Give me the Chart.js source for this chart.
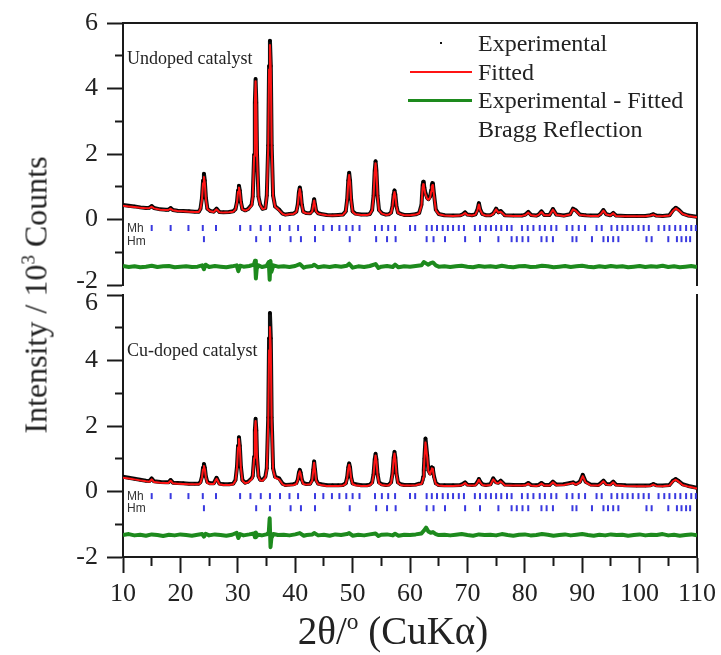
<!DOCTYPE html>
<html>
<head>
<meta charset="utf-8">
<script src="https://cdn.jsdelivr.net/npm/chart.js@4.4.1/dist/chart.umd.min.js"></script>
<style>
html,body{margin:0;padding:0;background:#fff;}
#wrap{position:relative;width:721px;height:655px;overflow:hidden;font-family:"Liberation Serif","Times New Roman",serif;color:#222;}
canvas{position:absolute;left:0;}
#cTop{top:0;width:721px;height:291px;}
#cBot{top:289px;width:721px;height:366px;}
.t{position:absolute;white-space:nowrap;}
.sup{font-size:0.6em;position:relative;top:-0.65em;}
#ytitle{left:38px;top:295px;font-size:32px;line-height:36px;transform:translate(-50%,-50%) rotate(-90deg);}
#xtitle{left:393px;top:633px;font-size:39px;line-height:42px;transform:translate(-50%,-50%);}
.leg{left:478px;font-size:24px;line-height:28px;}
.cat{left:127px;font-size:18px;line-height:20px;}
.ph{left:127px;font-family:"Liberation Sans",Arial,sans-serif;font-size:12px;line-height:12px;color:#333;}
.ln{position:absolute;}
</style>
</head>
<body>
<div id="wrap">
<canvas id="cTop" width="721" height="291"></canvas>
<canvas id="cBot" width="721" height="366"></canvas>

<div class="t" id="ytitle">Intensity / 10<span class="sup">3</span> Counts</div>
<div class="t" id="xtitle">2θ/<span class="sup">o</span> (CuKα)</div>

<div class="ln" style="left:440px;top:42px;width:2px;height:2px;background:#111;"></div>
<div class="t leg" style="top:29px;">Experimental</div>
<div class="ln" style="left:410px;top:71px;width:62px;height:2px;background:#ff1414;"></div>
<div class="t leg" style="top:58px;">Fitted</div>
<div class="ln" style="left:408px;top:99px;width:64px;height:3px;background:#1d8a1d;"></div>
<div class="t leg" style="top:86px;">Experimental - Fitted</div>
<div class="t leg" style="top:115px;">Bragg Reflection</div>

<div class="t cat" style="top:48px;">Undoped catalyst</div>
<div class="t cat" style="top:340px;">Cu-doped catalyst</div>

<div class="t ph" style="top:222px;">Mh</div>
<div class="t ph" style="top:235px;">Hm</div>
<div class="t ph" style="top:490px;">Mh</div>
<div class="t ph" style="top:502px;">Hm</div>
</div>

<script>
// ---------------- DATA (2θ in degrees, intensity in 10^3 counts) ----------------
const twoTheta = [
  10, 11, 12, 13, 14,
  14.6, 15.0, 15.4,
  16.5, 17.5,
  17.9, 18.3, 18.7,
  19.5, 20.5, 21.5, 22.5, 23.2,
  23.5, 23.75, 23.95, 24.1, 24.25, 24.45, 24.7, 25.2,
  25.8, 26.3, 26.8,
  27.5, 28.5, 29.2,
  29.6, 29.85, 30.05, 30.2, 30.35, 30.55, 30.8, 31.3,
  31.8, 32.4, 32.6, 32.85, 32.97, 33.1, 33.23, 33.35, 33.6, 33.9,
  34.3, 34.8, 35.05, 35.3, 35.45, 35.6, 35.75, 35.9, 36.15, 36.5,
  37.2, 37.8, 38.3, 39.0, 39.7,
  40.2, 40.45, 40.65, 40.8, 40.95, 41.15, 41.4, 41.9,
  42.6, 42.95, 43.15, 43.3, 43.45, 43.65, 44.0, 44.5,
  45.5, 46.5, 47.5, 48.3,
  48.8, 49.05, 49.25, 49.4, 49.55, 49.75, 50.0, 50.5,
  51.5, 52.5, 53.0,
  53.4, 53.65, 53.85, 54.0, 54.15, 54.35, 54.6, 55.1,
  55.8, 56.3,
  56.7, 56.95, 57.15, 57.3, 57.45, 57.65, 57.9, 58.4,
  59.0, 60.0, 61.0, 61.6,
  62.0, 62.2, 62.3, 62.4, 62.5, 62.7, 63.0, 63.2, 63.5, 63.7, 63.8, 63.9, 64.0, 64.2, 64.5, 65.0,
  66.0, 67.5, 68.8, 69.2, 69.6, 70.0, 70.8,
  71.4, 71.75, 72.0, 72.25, 72.6, 73.2,
  74.0, 74.5, 75.0, 75.4, 75.8, 76.5,
  78.0, 79.5, 80.1, 80.6, 81.1, 82.0, 82.4, 82.9, 83.4, 84.3, 84.9, 85.5,
  86.8, 87.9, 88.4, 88.9, 89.6, 90.1, 90.6, 91.5,
  92.8, 93.2, 93.7, 94.2, 94.9, 95.4, 95.9,
  97.5, 99.5, 101.0, 101.9, 102.4, 102.9, 104.0,
  105.2, 105.8, 106.3, 106.8, 107.5, 108.5, 110
];

const undopedExp = [
  0.44, 0.42, 0.40, 0.37, 0.35,
  0.36, 0.41, 0.35,
  0.31, 0.30,
  0.30, 0.35, 0.29,
  0.27, 0.26, 0.25, 0.24, 0.24,
  0.33, 0.65, 1.19, 1.40, 1.19, 0.65, 0.33, 0.26,
  0.24, 0.33, 0.23,
  0.22, 0.23, 0.25,
  0.32, 0.53, 0.89, 1.03, 0.89, 0.53, 0.32, 0.28,
  0.32, 0.45, 0.70, 1.98, 3.57, 4.29, 3.57, 1.98, 0.70, 0.46,
  0.33, 0.35, 0.73, 2.27, 4.69, 5.46, 4.69, 2.27, 0.73, 0.40,
  0.30, 0.18, 0.15, 0.17, 0.18,
  0.24, 0.46, 0.84, 0.98, 0.84, 0.46, 0.24, 0.20,
  0.19, 0.26, 0.46, 0.62, 0.46, 0.26, 0.19, 0.17,
  0.14, 0.13, 0.14, 0.15,
  0.25, 0.60, 1.20, 1.43, 1.20, 0.60, 0.25, 0.18,
  0.15, 0.15, 0.17,
  0.29, 0.73, 1.49, 1.78, 1.49, 0.73, 0.29, 0.19,
  0.15, 0.16,
  0.21, 0.41, 0.76, 0.89, 0.76, 0.41, 0.21, 0.17,
  0.14, 0.14, 0.16, 0.20,
  0.45, 1.05, 1.15, 1.12, 0.98, 0.80, 0.66, 0.62, 0.70, 0.90, 1.05, 1.11, 1.08, 0.75, 0.30, 0.17,
  0.13, 0.12, 0.13, 0.16, 0.22, 0.15, 0.13,
  0.16, 0.30, 0.50, 0.30, 0.17, 0.13,
  0.13, 0.18, 0.33, 0.22, 0.26, 0.13,
  0.12, 0.12, 0.15, 0.23, 0.14, 0.12, 0.15, 0.25, 0.14, 0.14, 0.32, 0.15,
  0.12, 0.16, 0.33, 0.28, 0.15, 0.14, 0.13, 0.12,
  0.12, 0.17, 0.29, 0.16, 0.13, 0.20, 0.12,
  0.11, 0.11, 0.11, 0.13, 0.16, 0.12, 0.11,
  0.13, 0.28, 0.36, 0.30, 0.18, 0.12, 0.08
];

const undopedFit = [
  0.42, 0.40, 0.38, 0.36, 0.34,
  0.35, 0.39, 0.34,
  0.30, 0.29,
  0.29, 0.33, 0.28,
  0.26, 0.25, 0.24, 0.23, 0.23,
  0.32, 0.60, 1.11, 1.30, 1.11, 0.60, 0.32, 0.25,
  0.23, 0.31, 0.22,
  0.21, 0.22, 0.24,
  0.31, 0.51, 0.85, 0.98, 0.85, 0.51, 0.31, 0.27,
  0.31, 0.42, 0.68, 1.94, 3.51, 4.22, 3.51, 1.94, 0.68, 0.44,
  0.32, 0.34, 0.71, 2.22, 4.58, 5.33, 4.58, 2.22, 0.71, 0.39,
  0.28, 0.17, 0.14, 0.16, 0.17,
  0.23, 0.44, 0.79, 0.93, 0.79, 0.44, 0.23, 0.19,
  0.18, 0.24, 0.43, 0.58, 0.43, 0.24, 0.18, 0.16,
  0.13, 0.12, 0.13, 0.14,
  0.24, 0.57, 1.14, 1.36, 1.14, 0.57, 0.24, 0.16,
  0.14, 0.14, 0.16,
  0.28, 0.70, 1.44, 1.72, 1.44, 0.70, 0.28, 0.18,
  0.14, 0.15,
  0.20, 0.39, 0.71, 0.84, 0.71, 0.39, 0.20, 0.16,
  0.13, 0.13, 0.15, 0.19,
  0.42, 0.98, 1.08, 1.05, 0.93, 0.76, 0.63, 0.60, 0.67, 0.86, 1.00, 1.05, 1.02, 0.71, 0.28, 0.16,
  0.12, 0.11, 0.12, 0.15, 0.20, 0.14, 0.12,
  0.15, 0.28, 0.46, 0.28, 0.16, 0.12,
  0.12, 0.17, 0.31, 0.21, 0.24, 0.12,
  0.11, 0.11, 0.14, 0.21, 0.13, 0.11, 0.14, 0.23, 0.13, 0.13, 0.30, 0.14,
  0.11, 0.15, 0.31, 0.26, 0.14, 0.13, 0.12, 0.11,
  0.11, 0.16, 0.27, 0.15, 0.12, 0.19, 0.11,
  0.10, 0.10, 0.10, 0.12, 0.15, 0.11, 0.10,
  0.12, 0.26, 0.34, 0.28, 0.17, 0.11, 0.07
];

const cuDopedExp = [
  0.45, 0.42, 0.39, 0.36, 0.33,
  0.32, 0.40, 0.31,
  0.29, 0.28,
  0.28, 0.35, 0.27,
  0.26, 0.25, 0.24, 0.24, 0.24,
  0.29, 0.45, 0.73, 0.84, 0.73, 0.45, 0.29, 0.25,
  0.25, 0.42, 0.24,
  0.22, 0.22, 0.24,
  0.35, 0.74, 1.40, 1.66, 1.40, 0.74, 0.35, 0.27,
  0.30, 0.40, 0.47, 1.06, 1.87, 2.22, 1.87, 1.06, 0.47, 0.36,
  0.35, 0.45, 0.71, 2.26, 4.68, 5.45, 4.68, 2.26, 0.71, 0.45,
  0.40, 0.24, 0.20, 0.21, 0.22,
  0.26, 0.37, 0.58, 0.66, 0.58, 0.37, 0.26, 0.23,
  0.24, 0.35, 0.67, 0.92, 0.67, 0.35, 0.24, 0.22,
  0.19, 0.19, 0.19, 0.20,
  0.25, 0.43, 0.74, 0.86, 0.74, 0.43, 0.25, 0.22,
  0.19, 0.19, 0.21,
  0.28, 0.53, 0.98, 1.15, 0.98, 0.53, 0.28, 0.22,
  0.20, 0.21,
  0.28, 0.55, 1.03, 1.21, 1.03, 0.55, 0.28, 0.22,
  0.20, 0.20, 0.21, 0.24,
  0.25, 0.35, 0.45, 0.65, 1.00, 1.62, 1.10, 0.65, 0.55, 0.68, 0.74, 0.72, 0.66, 0.45, 0.25, 0.20,
  0.19, 0.19, 0.20, 0.23, 0.28, 0.21, 0.20,
  0.21, 0.29, 0.38, 0.30, 0.22, 0.20,
  0.22, 0.40, 0.28, 0.27, 0.33, 0.21,
  0.20, 0.20, 0.21, 0.26, 0.20, 0.19, 0.20, 0.26, 0.20, 0.20, 0.30, 0.21,
  0.22, 0.26, 0.28, 0.23, 0.30, 0.51, 0.30, 0.21,
  0.20, 0.25, 0.33, 0.23, 0.22, 0.30, 0.21,
  0.19, 0.18, 0.18, 0.19, 0.23, 0.19, 0.18,
  0.20, 0.33, 0.38, 0.32, 0.22, 0.17, 0.11
];

const cuDopedFit = [
  0.42, 0.40, 0.37, 0.34, 0.31,
  0.30, 0.37, 0.29,
  0.27, 0.26,
  0.26, 0.33, 0.25,
  0.24, 0.23, 0.22, 0.22, 0.22,
  0.26, 0.42, 0.68, 0.78, 0.68, 0.42, 0.26, 0.23,
  0.23, 0.39, 0.22,
  0.20, 0.20, 0.22,
  0.33, 0.70, 1.35, 1.60, 1.35, 0.70, 0.33, 0.25,
  0.28, 0.37, 0.45, 1.02, 1.81, 2.15, 1.81, 1.02, 0.45, 0.34,
  0.33, 0.42, 0.66, 2.08, 4.31, 5.02, 4.31, 2.08, 0.66, 0.42,
  0.37, 0.22, 0.18, 0.19, 0.20,
  0.23, 0.35, 0.54, 0.62, 0.54, 0.35, 0.23, 0.21,
  0.22, 0.33, 0.64, 0.88, 0.64, 0.33, 0.22, 0.20,
  0.17, 0.17, 0.17, 0.18,
  0.23, 0.40, 0.70, 0.82, 0.70, 0.40, 0.23, 0.19,
  0.17, 0.17, 0.19,
  0.25, 0.50, 0.93, 1.10, 0.93, 0.50, 0.25, 0.20,
  0.18, 0.19,
  0.26, 0.52, 0.98, 1.16, 0.98, 0.52, 0.26, 0.20,
  0.18, 0.18, 0.19, 0.22,
  0.23, 0.32, 0.42, 0.61, 0.94, 1.50, 1.04, 0.62, 0.52, 0.65, 0.71, 0.69, 0.63, 0.42, 0.23, 0.18,
  0.17, 0.17, 0.18, 0.21, 0.26, 0.19, 0.18,
  0.19, 0.27, 0.36, 0.28, 0.20, 0.18,
  0.20, 0.37, 0.26, 0.25, 0.31, 0.19,
  0.18, 0.18, 0.19, 0.24, 0.18, 0.17, 0.18, 0.24, 0.18, 0.18, 0.28, 0.19,
  0.20, 0.24, 0.26, 0.21, 0.28, 0.47, 0.28, 0.19,
  0.18, 0.23, 0.31, 0.21, 0.20, 0.28, 0.19,
  0.17, 0.16, 0.16, 0.17, 0.21, 0.17, 0.16,
  0.18, 0.31, 0.36, 0.30, 0.20, 0.15, 0.09
];

// Difference curves (plotted offset below the patterns)
const diffTheta = [
  10, 11, 12, 13, 14, 15, 16, 17, 18, 19, 20, 21, 22, 23,
  23.8, 24.1, 24.4, 25, 26, 27, 28, 29, 29.8, 30.1, 30.4, 31, 32,
  32.8, 33.0, 33.15, 33.3, 33.6, 34.2, 35.0, 35.4, 35.55, 35.7, 35.85, 36.2, 37,
  38, 39, 40, 40.8, 41.5, 42, 43, 43.3, 44, 45, 46, 47, 48, 49, 49.4, 50, 51, 52, 53, 54, 54.5, 55, 56, 57, 57.4, 58, 59, 60, 61,
  62, 62.4, 62.8, 63.2, 63.6, 64, 64.5, 65, 66,
  67, 68, 69, 70, 71, 72, 73, 74, 75, 76, 77,
  78, 79, 80, 81, 82, 83, 84, 85, 86, 87, 88,
  89, 90, 91, 92, 93, 94, 95, 96, 97, 98, 99,
  100, 101, 102, 103, 104, 105, 106, 107, 108, 109, 110
];

const undopedDiff = [
  -1.42, -1.45, -1.43, -1.46, -1.44, -1.41, -1.45, -1.43, -1.42, -1.46, -1.44, -1.43, -1.45, -1.44,
  -1.40, -1.52, -1.38, -1.45, -1.42, -1.44, -1.46, -1.43, -1.40, -1.58, -1.41, -1.44, -1.42,
  -1.38, -1.26, -1.80, -1.50, -1.40, -1.45, -1.42, -1.30, -1.84, -1.27, -1.60, -1.40, -1.44,
  -1.43, -1.45, -1.42, -1.36, -1.47, -1.44, -1.42, -1.38, -1.46, -1.43, -1.45, -1.42, -1.44, -1.41, -1.35, -1.47, -1.43, -1.45, -1.42, -1.36, -1.48, -1.44, -1.42, -1.45, -1.38, -1.46, -1.43, -1.44, -1.42,
  -1.40, -1.30, -1.34, -1.38, -1.33, -1.31, -1.40, -1.44, -1.43,
  -1.45, -1.43, -1.41, -1.44, -1.46, -1.42, -1.44, -1.43, -1.45, -1.41, -1.44,
  -1.46, -1.43, -1.42, -1.45, -1.44, -1.41, -1.43, -1.46, -1.44, -1.42, -1.45,
  -1.43, -1.41, -1.44, -1.46, -1.43, -1.45, -1.42, -1.44, -1.43, -1.46, -1.44,
  -1.42, -1.45, -1.43, -1.44, -1.41, -1.45, -1.43, -1.46, -1.44, -1.42, -1.45
];

const cuDopedDiff = [
  -1.33, -1.30, -1.34, -1.32, -1.35, -1.31, -1.33, -1.36, -1.32, -1.34, -1.31, -1.33, -1.35, -1.32,
  -1.30, -1.38, -1.29, -1.34, -1.31, -1.33, -1.35, -1.32, -1.26, -1.42, -1.30, -1.34, -1.31,
  -1.28, -1.40, -1.25, -1.36, -1.32, -1.34, -1.31, -1.25, -0.82, -1.70, -1.42, -1.30, -1.33,
  -1.32, -1.34, -1.31, -1.27, -1.35, -1.33, -1.31, -1.27, -1.34, -1.32, -1.35, -1.31, -1.33, -1.30, -1.27, -1.35, -1.32, -1.34, -1.31, -1.28, -1.36, -1.32, -1.31, -1.34, -1.29, -1.35, -1.32, -1.33, -1.31,
  -1.28, -1.20, -1.10, -1.22, -1.26, -1.24, -1.30, -1.33, -1.32,
  -1.34, -1.32, -1.30, -1.33, -1.35, -1.31, -1.33, -1.32, -1.34, -1.30, -1.33,
  -1.35, -1.32, -1.31, -1.34, -1.33, -1.30, -1.32, -1.35, -1.33, -1.31, -1.34,
  -1.32, -1.30, -1.33, -1.35, -1.32, -1.34, -1.31, -1.33, -1.32, -1.35, -1.33,
  -1.31, -1.34, -1.32, -1.33, -1.30, -1.34, -1.32, -1.35, -1.33, -1.31, -1.34
];

// Bragg reflection positions (2θ) for the two phases
const mhReflections = [
  15.0, 18.3, 21.4, 23.9, 26.2, 30.4, 32.2, 34.0, 35.6, 37.35, 39.0, 40.5, 43.45, 44.9, 46.4, 47.7,
  48.9, 50.0, 51.2, 53.9, 55.1, 56.2, 57.4, 60.0, 60.9, 62.9, 63.8, 64.7, 65.7, 66.6, 67.5, 68.5,
  69.4, 71.3, 72.2, 73.2, 74.1, 75.0, 75.9, 76.9, 77.7, 79.5, 80.5, 81.5, 82.6, 83.5, 84.6, 85.5,
  87.3, 88.3, 89.4, 90.5, 92.5, 93.4, 95.1, 96.1, 97.0, 97.9, 98.8, 99.8, 100.7, 101.6, 103.3,
  104.3, 105.2, 106.2, 107.1, 108.1, 109.0, 109.8
];
const hmReflections = [
  24.1, 33.2, 35.6, 39.2, 41.0, 43.45, 49.5, 54.1, 56.0, 57.5, 62.9, 64.1, 66.1, 69.6, 72.2, 75.4,
  77.7, 78.6, 79.6, 80.6, 82.9, 83.8, 84.9, 88.3, 89.0, 91.7, 93.7, 94.5, 95.4, 96.3, 101.2, 102.1,
  105.0, 106.5, 107.3, 108.1, 108.8
];

// Level (in 10^3 counts) at which each panel's reflection rows are marked
const undopedMhRow = -0.26, undopedHmRow = -0.60;
const cuDopedMhRow = -0.14, cuDopedHmRow = -0.51;

const yTickLabels = ['-2', '0', '2', '4', '6'];
const xTickLabels = ['10', '20', '30', '40', '50', '60', '70', '80', '90', '100', '110'];

// ---------------- CHART ----------------
const AXIS = '#1a1a1a';
const SERIF = "'Liberation Serif','Times New Roman',serif";

function pairs(xs, ys) { return xs.map((x, i) => ({ x: x, y: ys[i] })); }
function row(xs, level) { return xs.map(x => ({ x: x, y: level })); }

function zeroPad(s) { s.paddingTop = 0; s.paddingBottom = 0; s.paddingLeft = 0; s.paddingRight = 0; }

function makePanel(canvasId, exp, fit, diff, mhRow, hmRow, isBottom) {
  const datasets = [
    { label: 'Experimental', data: pairs(twoTheta, exp), borderColor: '#111', borderWidth: 4,
      borderJoinStyle: 'round', borderCapStyle: 'round',
      pointRadius: 1.7, pointBorderWidth: 0, pointBackgroundColor: '#000', order: 5 },
    { label: 'Fitted', data: pairs(twoTheta, fit), borderColor: '#ff1414', borderWidth: 2,
      borderJoinStyle: 'round', pointRadius: 0, order: 4 },
    { label: 'Experimental - Fitted', data: pairs(diffTheta, diff), borderColor: '#1d8a1d', borderWidth: 4,
      borderJoinStyle: 'round', pointRadius: 0, order: 3 },
    { label: 'Mh', data: row(mhReflections, mhRow), showLine: false, pointStyle: 'line', pointRotation: 90,
      pointRadius: 3, pointBorderColor: '#3a3ae0', pointBorderWidth: 2, order: 2 },
    { label: 'Hm', data: row(hmReflections, hmRow), showLine: false, pointStyle: 'line', pointRotation: 90,
      pointRadius: 3, pointBorderColor: '#3a3ae0', pointBorderWidth: 2, order: 1 }
  ];

  const yLeft = {
    type: 'linear', position: 'left', min: -2, max: 6,
    ticks: {
      stepSize: 1, autoSkip: false, color: '#222', padding: 9,
      font: (c) => {
        const v = c.tick ? c.tick.value : 0;
        let lh = 1.2;
        if (!isBottom && v === -2) lh = 8 / 26;
        if (isBottom && v === 6) lh = 16 / 26;
        return { family: SERIF, size: 26, lineHeight: lh };
      },
      callback: (v) => {
        const s = String(v);
        if (!yTickLabels.includes(s)) return '';
        if (!isBottom && v === -2) return [s, ''];
        if (isBottom && v === 6) return ['', s];
        return s;
      }
    },
    grid: {
      display: true, drawOnChartArea: false, drawTicks: true, tickLength: 16, tickWidth: 2, tickColor: AXIS,
      tickBorderDash: (c) => (c.tick && Math.abs(c.tick.value) % 2 === 1) ? [8, 8] : [],
      tickBorderDashOffset: (c) => (c.tick && Math.abs(c.tick.value) % 2 === 1) ? 8 : 0
    },
    border: { display: true, color: AXIS, width: 2 },
    afterFit: (s) => { s.width = 123; zeroPad(s); }
  };

  const yRight = {
    type: 'linear', position: 'right', min: -2, max: 6,
    ticks: { display: false }, grid: { display: false },
    border: { display: true, color: AXIS, width: 2 },
    afterFit: (s) => { s.width = 24; zeroPad(s); }
  };

  let xScale;
  if (!isBottom) {
    xScale = {
      type: 'linear', position: 'top', min: 10, max: 110,
      ticks: { display: false }, grid: { display: false },
      border: { display: true, color: AXIS, width: 2 },
      afterFit: (s) => { s.height = 23; zeroPad(s); }
    };
  } else {
    xScale = {
      type: 'linear', position: 'bottom', min: 10, max: 110,
      ticks: {
        stepSize: 5, autoSkip: false, maxRotation: 0, minRotation: 0, color: '#222', padding: 6,
        font: { family: SERIF, size: 26 },
        callback: (v) => { const s = String(v); return xTickLabels.includes(s) ? s : ''; }
      },
      grid: {
        display: true, drawOnChartArea: false, drawTicks: true, tickLength: 16, tickWidth: 2, tickColor: AXIS,
        tickBorderDash: (c) => (c.tick && c.tick.value % 10 !== 0) ? [8, 8] : [],
        tickBorderDashOffset: 0
      },
      border: { display: true, color: AXIS, width: 2 },
      afterFit: (s) => { s.height = 98; zeroPad(s); }
    };
  }

  return new Chart(document.getElementById(canvasId), {
    type: 'line',
    data: { datasets: datasets },
    options: {
      responsive: false, animation: false, devicePixelRatio: 1, events: [],
      layout: { padding: isBottom ? { top: 4, bottom: 0, left: 0, right: 0 } : { top: 0, bottom: 5, left: 0, right: 0 } },
      elements: { line: { tension: 0 } },
      plugins: { legend: { display: false }, tooltip: { enabled: false } },
      scales: { x: xScale, y: yLeft, yR: yRight }
    }
  });
}

makePanel('cTop', undopedExp, undopedFit, undopedDiff, undopedMhRow, undopedHmRow, false);
makePanel('cBot', cuDopedExp, cuDopedFit, cuDopedDiff, cuDopedMhRow, cuDopedHmRow, true);
</script>
</body>
</html>
